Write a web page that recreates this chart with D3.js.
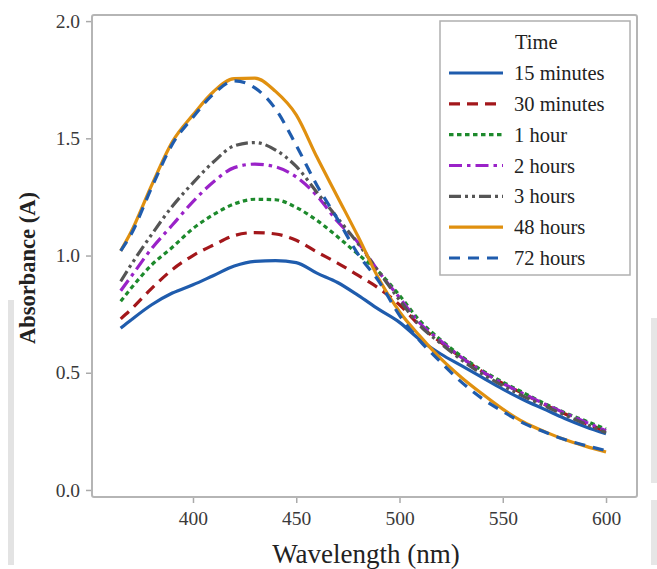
<!DOCTYPE html>
<html><head><meta charset="utf-8">
<script src="https://cdn.jsdelivr.net/npm/d3@7"></script>
<style>html,body{margin:0;padding:0;background:#fff;}svg{display:block;}</style>
</head><body>
<script>
const wavelengths = [365,370,380,390,400,410,420,430,440,450,460,470,480,490,500,510,520,530,540,550,560,570,580,590,600];
const seriesNames = ["15 minutes","30 minutes","1 hour","2 hours","3 hours","48 hours","72 hours"];
const min15 = [0.69,0.725,0.79,0.84,0.875,0.915,0.955,0.975,0.978,0.97,0.925,0.885,0.83,0.77,0.715,0.64,0.58,0.53,0.48,0.43,0.385,0.345,0.305,0.27,0.24];
const min30 = [0.73,0.77,0.86,0.94,1.0,1.045,1.085,1.098,1.092,1.065,1.015,0.968,0.915,0.86,0.79,0.70,0.63,0.565,0.505,0.455,0.41,0.365,0.325,0.285,0.25];
const hour1 = [0.805,0.86,0.96,1.035,1.115,1.175,1.22,1.24,1.238,1.205,1.15,1.08,1.005,0.93,0.83,0.72,0.64,0.57,0.51,0.46,0.415,0.37,0.33,0.295,0.26];
const hour2 = [0.85,0.91,1.03,1.13,1.23,1.315,1.375,1.39,1.378,1.335,1.255,1.145,1.055,0.93,0.82,0.71,0.635,0.565,0.505,0.455,0.41,0.368,0.328,0.29,0.253];
const hour3 = [0.89,0.96,1.09,1.21,1.31,1.40,1.468,1.482,1.45,1.38,1.27,1.16,1.05,0.93,0.81,0.70,0.625,0.555,0.495,0.445,0.40,0.36,0.32,0.282,0.245];
const hour48 = [1.02,1.10,1.30,1.485,1.60,1.70,1.755,1.757,1.70,1.60,1.42,1.25,1.08,0.90,0.76,0.655,0.56,0.48,0.41,0.345,0.29,0.25,0.215,0.187,0.162];
const hour72 = [1.02,1.09,1.29,1.475,1.59,1.69,1.745,1.715,1.625,1.47,1.30,1.155,1.005,0.89,0.745,0.635,0.545,0.46,0.39,0.335,0.285,0.248,0.215,0.19,0.168];
const xTicks = [400,450,500,550,600];
const yTicks = [0.0,0.5,1.0,1.5,2.0];

const seriesValues = [min15,min30,hour1,hour2,hour3,hour48,hour72];
const colors = ["#1f5cad","#a3171b","#1d8a2c","#9a22c8","#555555","#e0900f","#1f5cad"];
const dashes = [null,"11,7","4.5,3.5","13,5,3.5,5","12,4,3,4,3,4",null,"11,8"];

const W = 657, H = 569;
const svg = d3.select("body").append("svg").attr("width",W).attr("height",H);
const serif = "'Liberation Serif','Times New Roman',serif";

// scan artifacts
svg.append("rect").attr("x",8).attr("y",300).attr("width",6).attr("height",265).attr("fill","#e3e3e3");
svg.append("rect").attr("x",651).attr("y",318).attr("width",6).attr("height",165).attr("fill","#e6e6e6");
svg.append("rect").attr("x",651).attr("y",500).attr("width",6).attr("height",65).attr("fill","#e6e6e6");

const x = d3.scaleLinear().domain([351.1,615]).range([92,637]);
const y = d3.scaleLinear().domain([-0.03,2.026]).range([497,15]);

// frame
svg.append("rect").attr("x",92).attr("y",15).attr("width",545).attr("height",482)
  .attr("rx",2).attr("fill","none").attr("stroke","#b5b5b5").attr("stroke-width",2);

// axes
const yAxis = d3.axisLeft(y).tickValues(yTicks).tickFormat(d3.format(".1f")).tickSize(5).tickPadding(6);
const gy = svg.append("g").attr("transform","translate(91,0)").call(yAxis);
const xAxis = d3.axisBottom(x).tickValues(xTicks).tickFormat(d3.format("d")).tickSize(5).tickPadding(8);
const gx = svg.append("g").attr("transform","translate(0,498)").call(xAxis);
[gx,gy].forEach(g=>{
  g.select(".domain").remove();
  g.selectAll(".tick line").attr("stroke","#aaa").attr("stroke-width",1.5);
  g.selectAll(".tick text").attr("fill","#3a3a3a").style("font-family",serif).style("font-size","19.5px");
});

// lines
const line = d3.line().x((d,i)=>x(wavelengths[i])).y(d=>y(d)).curve(d3.curveMonotoneX);
const lg0 = svg.append("g");
seriesValues.forEach((vals,k)=>{
  lg0.append("path").datum(vals).attr("d",line)
    .attr("fill","none").attr("stroke",colors[k]).attr("stroke-width",3.2)
    .attr("stroke-dasharray",dashes[k]).attr("stroke-linecap","butt");
});

// legend
const lg = svg.append("g");
lg.append("rect").attr("x",440).attr("y",21).attr("width",190).attr("height",254)
  .attr("fill","#fff").attr("stroke","#b0b0b0").attr("stroke-width",1.5);
lg.append("text").attr("x",515).attr("y",49).text("Time")
  .style("font-family",serif).style("font-size","20.5px").attr("fill","#222");
const legY = d3.scalePoint().domain(seriesNames).range([73,258]);
seriesNames.forEach((n,k)=>{
  const yy = legY(n);
  lg.append("line").attr("x1",449).attr("x2",503).attr("y1",yy).attr("y2",yy)
    .attr("stroke",colors[k]).attr("stroke-width",3.2).attr("stroke-dasharray",dashes[k]);
  lg.append("text").attr("x",514).attr("y",yy+7).text(n)
    .style("font-family",serif).style("font-size","20.5px").attr("fill","#222");
});

// axis titles
svg.append("text").attr("transform","translate(35,268) rotate(-90)").attr("text-anchor","middle")
  .text("Absorbance (A)").style("font-family",serif).style("font-size","22.5px").style("font-weight","bold").attr("fill","#222");
svg.append("text").attr("x",366).attr("y",563).attr("text-anchor","middle")
  .text("Wavelength (nm)").style("font-family",serif).style("font-size","27px").attr("fill","#222");
</script>
</body></html>
